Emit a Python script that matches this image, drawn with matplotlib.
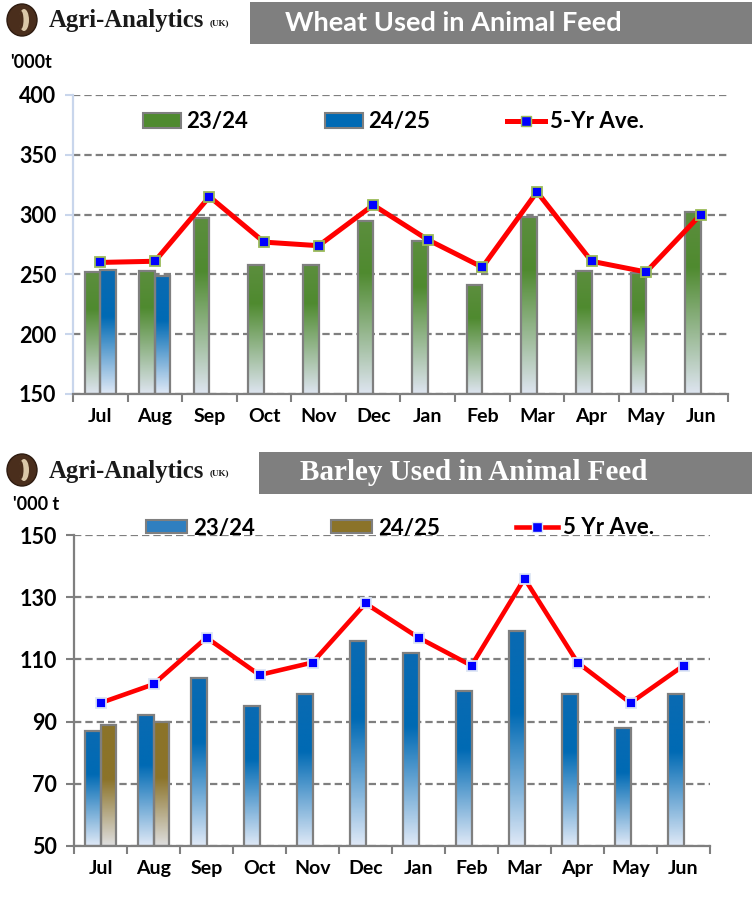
import numpy as np
import matplotlib
matplotlib.use("Agg")
import matplotlib.pyplot as plt
from matplotlib.colors import LinearSegmentedColormap
from matplotlib.patches import Rectangle, Ellipse

months = ['Jul', 'Aug', 'Sep', 'Oct', 'Nov', 'Dec', 'Jan', 'Feb', 'Mar', 'Apr', 'May', 'Jun']

# Wheat ('000t)
wheat_2324 = [252, 253, 297, 258, 258, 295, 278, 241, 298, 253, 251, 302]
wheat_2425 = [254, 249]
wheat_5yr = [260, 261, 315, 277, 274, 308, 279, 256, 319, 261, 252, 300]

# Barley ('000 t)
barley_2324 = [87, 92, 104, 95, 99, 116, 112, 100, 119, 99, 88, 99]
barley_2425 = [89, 90]
barley_5yr = [96, 102, 117, 105, 109, 128, 117, 108, 136, 109, 96, 108]

W, H = 752, 902
fig = plt.figure(figsize=(W / 100, H / 100), dpi=100)
plt.rcParams['font.family'] = ['Lato', 'DejaVu Sans']


def box(l, t, r, b):
    return [l / W, 1 - b / H, (r - l) / W, (b - t) / H]


def fx(x):
    return x / W


def fy(y):
    return 1 - y / H


green_cm = LinearSegmentedColormap.from_list('g', [(0, '#5C8E3E'), (0.3, '#4F8A2F'), (1, '#DDE4EF')])
blue_cm = LinearSegmentedColormap.from_list('b', [(0, '#0A6AB2'), (0.38, '#006AB4'), (1, '#DEE8F6')])
gold_cm = LinearSegmentedColormap.from_list('o', [(0, '#8B7329'), (0.45, '#8B7329'), (1, '#DEDEDE')])
grad = np.linspace(0, 1, 100).reshape(-1, 1)


def gradient_bar(ax, x, w, base, top, cmap):
    ax.imshow(grad, extent=[x - w / 2, x + w / 2, base, top], aspect='auto',
              cmap=cmap, zorder=2, interpolation='bilinear')
    ax.bar(x, top - base, w, bottom=base, facecolor='none', edgecolor='#7F7F7F',
           linewidth=1.6, zorder=3)


def draw_chart(ax, s1, s2, avg, ymin, ymax, step, cm1, cm2, mk_edge, lw, ms, yspine_col):
    x = np.arange(len(months))
    bw = 0.285
    for i, v in enumerate(s1):
        gradient_bar(ax, x[i] - bw / 2, bw, ymin, v, cm1)
    for i, v in enumerate(s2):
        gradient_bar(ax, x[i] + bw / 2, bw, ymin, v, cm2)
    ax.plot(x, avg, color='#FF0000', lw=lw, marker='s', ms=ms, mfc='#0000FF',
            mec=mk_edge, mew=1.3, zorder=5, solid_joinstyle='miter')
    ax.set_xlim(-0.5, len(months) - 0.5)
    ax.set_ylim(ymin, ymax)
    ax.set_yticks(np.arange(ymin, ymax + 1, step))
    ax.set_xticks(x)
    ax.set_xticklabels(months, fontsize=14, fontweight='bold')
    ax.set_xticks(np.arange(-0.5, len(months), 1), minor=True)
    ax.tick_params(axis='x', which='major', length=0, pad=10)
    ax.tick_params(axis='x', which='minor', length=6, width=1.5, color='#7F7F7F')
    ax.tick_params(axis='y', length=6, width=1.5, color=yspine_col, labelsize=15.5, pad=6)
    for lab in ax.get_yticklabels():
        lab.set_fontweight('bold')
    ax.yaxis.grid(True, linestyle=(0, (3.3, 1.8)), color='#7F7F7F', lw=1.6, zorder=1)
    ax.set_axisbelow(True)
    for s in ['top', 'right']:
        ax.spines[s].set_visible(False)
    ax.spines['bottom'].set_color('#7F7F7F')
    ax.spines['bottom'].set_linewidth(1.6)
    ax.spines['left'].set_color(yspine_col)
    ax.spines['left'].set_linewidth(1.6)


leg_kw = dict(ncol=3, frameon=False, loc='center left', borderpad=0, borderaxespad=0,
              prop={'size': 16, 'weight': 'bold'}, handletextpad=0.25)

# ---- top: wheat
ax1 = fig.add_axes(box(73, 95, 728, 394))
draw_chart(ax1, wheat_2324, wheat_2425, wheat_5yr, 150, 400, 50,
           green_cm, blue_cm, '#9BBB59', 3.6, 7.5, '#C9D6EC')
h1 = [Rectangle((0, 0), 1, 1, fc='#4F8A2F', ec='#7F7F7F', lw=1.5),
      Rectangle((0, 0), 1, 1, fc='#006AB4', ec='#7F7F7F', lw=1.5),
      plt.Line2D([], [], color='#FF0000', lw=3.6, marker='s', ms=7, mfc='#0000FF', mec='#9BBB59')]
ax1.legend(h1, ['23/24', '24/25', '5-Yr Ave.'], bbox_to_anchor=((143 - 73) / 655, (394 - 122) / 299),
           handlelength=1.7, handleheight=0.65, columnspacing=3.45, **leg_kw)

# ---- bottom: barley
ax2 = fig.add_axes(box(74, 535, 710, 846))
draw_chart(ax2, barley_2324, barley_2425, barley_5yr, 50, 150, 20,
           blue_cm, gold_cm, '#DDE6F5', 3.3, 7, '#7F7F7F')
h2 = [Rectangle((0, 0), 1, 1, fc='#2F7FC0', ec='#7F7F7F', lw=1.5),
      Rectangle((0, 0), 1, 1, fc='#8B7329', ec='#7F7F7F', lw=1.5),
      plt.Line2D([], [], color='#FF0000', lw=3.3, marker='s', ms=7, mfc='#0000FF', mec='#DDE6F5')]
ax2.legend(h2, ['23/24', '24/25', '5 Yr Ave.'], bbox_to_anchor=((146 - 74) / 636, (846 - 528) / 311),
           handlelength=1.85, handleheight=0.55, columnspacing=3.45, **leg_kw)

# ---- headers
for top, title, tfont, tl, tsize, tcx in [(0, 'Wheat Used in Animal Feed', 'Lato', 250, 19.5, 453),
                                          (450, 'Barley Used in Animal Feed', 'Liberation Serif', 259, 21, 474)]:
    fig.patches.append(Rectangle((fx(tl), fy(top + 44)), fx(752) - fx(tl), (44 - 2) / H,
                                 transform=fig.transFigure, fc='#7F7F7F', ec='none'))
    fig.text(fx(tcx), fy(top + 23), title, color='white', fontsize=tsize,
             fontweight='bold', family=tfont, ha='center', va='center')
    cy = top + 20
    fig.patches.append(Ellipse((fx(22), fy(cy)), 30 / W, 32 / H, transform=fig.transFigure,
                               fc='#4A2E1C', ec='#2E1B10', lw=1))
    fig.patches.append(Ellipse((fx(24), fy(cy)), 10 / W, 22 / H, transform=fig.transFigure,
                               fc='#D9C7A8', ec='none'))
    fig.patches.append(Ellipse((fx(21), fy(cy)), 5 / W, 18 / H, transform=fig.transFigure,
                               fc='#4A2E1C', ec='none'))
    fig.text(fx(49), fy(cy + 1), 'Agri-Analytics', family='Liberation Serif',
             fontweight='bold', fontsize=17.8, color='#1A1A1A', va='center')
    fig.text(fx(210), fy(cy + 3), '(UK)', family='Liberation Serif',
             fontweight='bold', fontsize=6.5, color='#1A1A1A', va='center')

fig.text(fx(10), fy(62), "'000t", fontsize=13, fontweight='bold', va='center')
fig.text(fx(13), fy(505), "'000 t", fontsize=13, fontweight='bold', va='center')

fig.savefig('out.png', dpi=100)
